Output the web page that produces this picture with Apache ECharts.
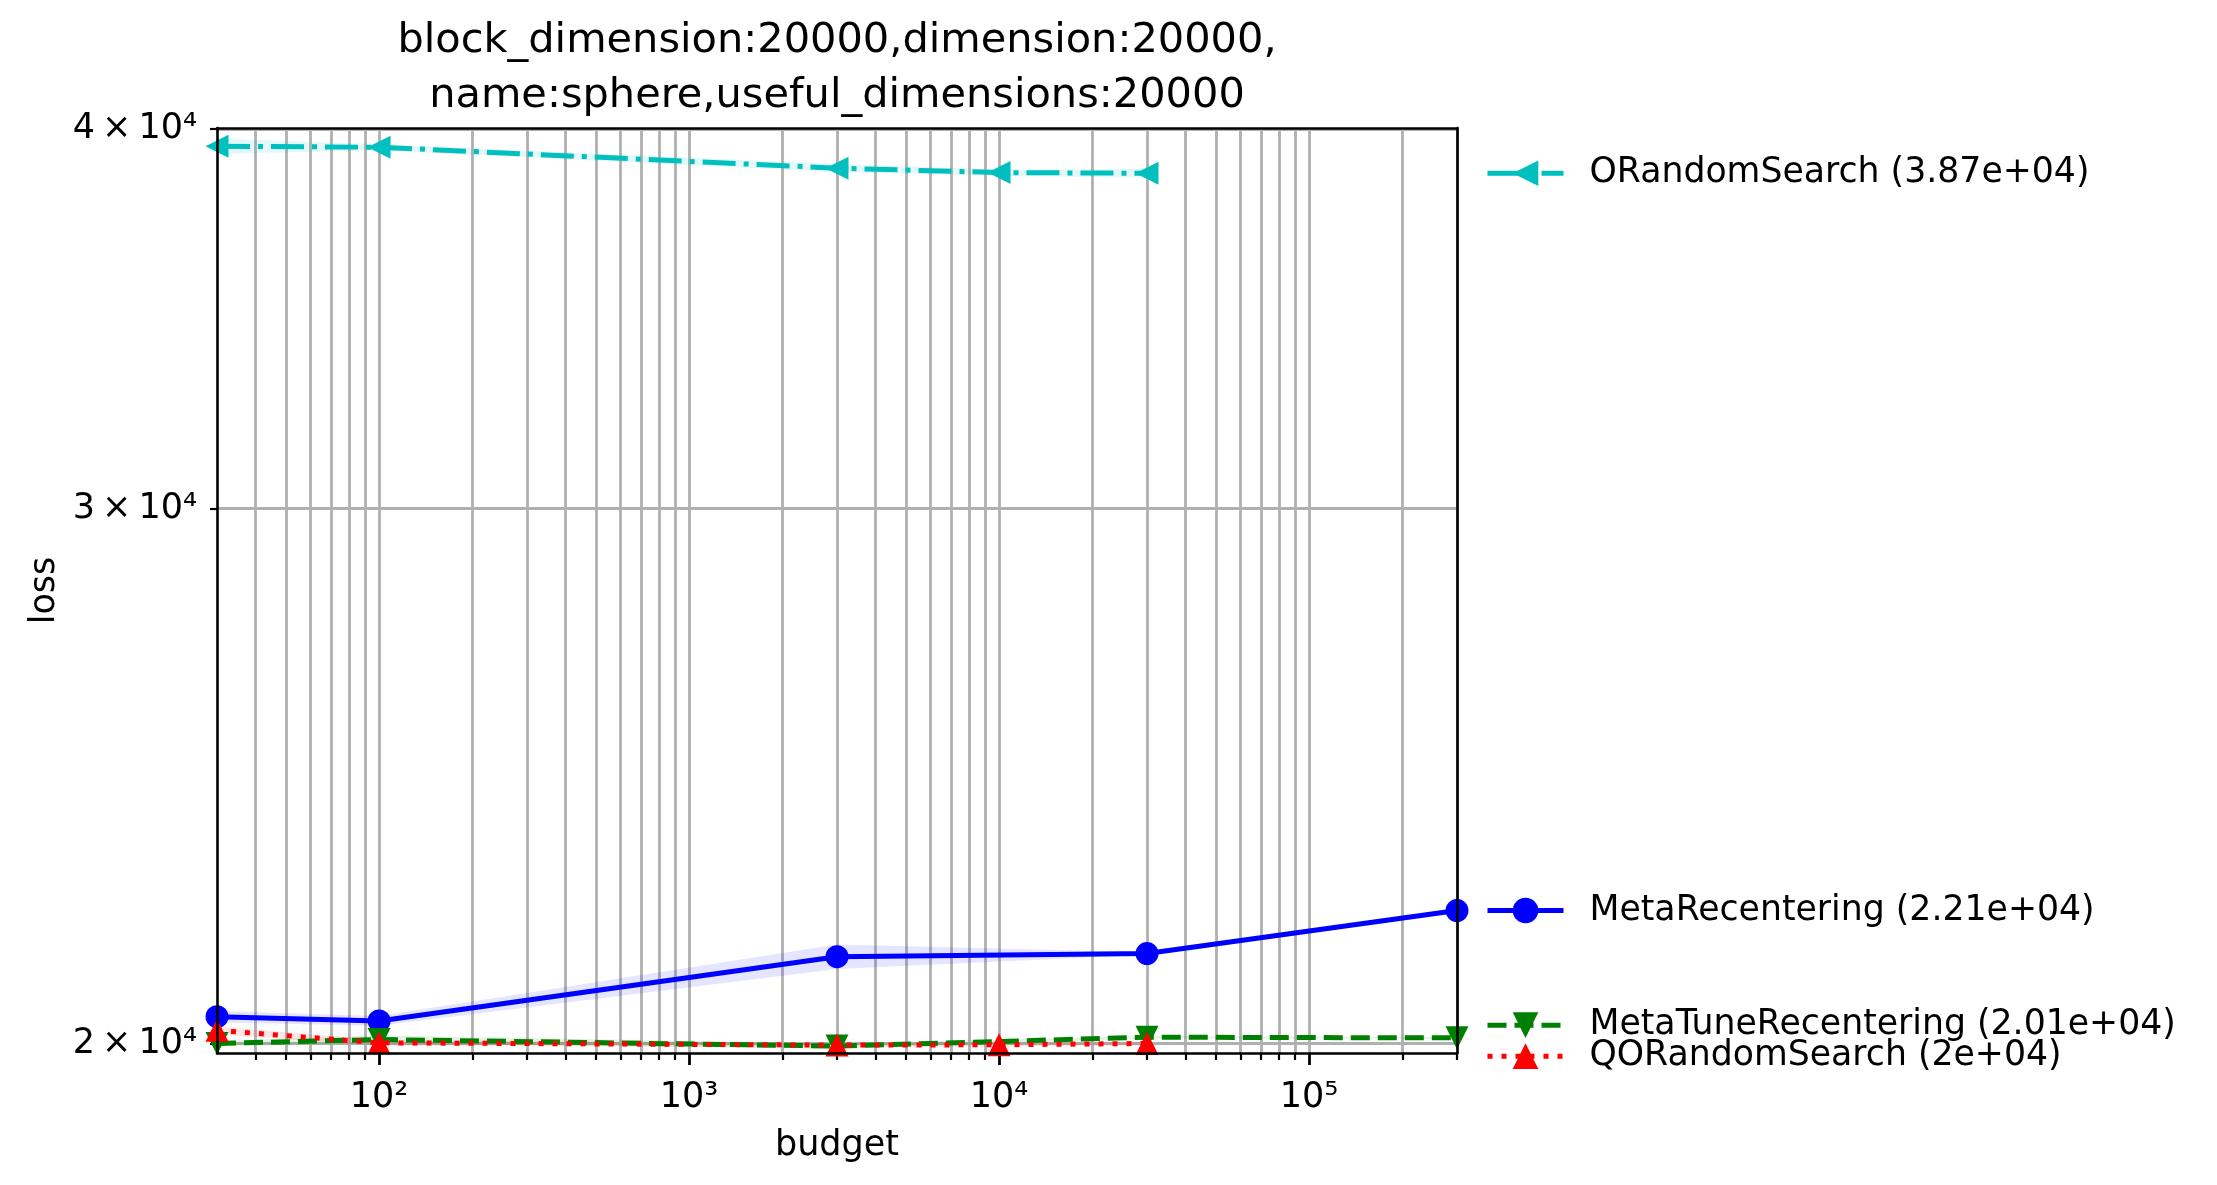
<!DOCTYPE html>
<html>
<head>
<meta charset="utf-8">
<script src="https://cdn.jsdelivr.net/npm/echarts@6/dist/echarts.min.js"></script>
</head>
<body style="margin:0; background:#fff">
<div id="container" style="width:2217px; height:1185px"></div>
<script type="text/javascript">
// values
var seriesNames = ['ORandomSearch (3.87e+04)', 'MetaRecentering (2.21e+04)', 'MetaTuneRecentering (2.01e+04)', 'QORandomSearch (2e+04)'];

var oRandBudget = [30, 100, 3000, 10000, 30000];
var oRandLoss = [39480, 39450, 38830, 38700, 38680];
var oRandErr = [230, 90, 120, 90, 130];

var metaBudget = [30, 100, 3000, 30000, 300000];
var metaLoss = [20410, 20345, 21360, 21410, 22120];
var metaErr = [90, 75, 200, 20, 15];

var tuneBudget = [30, 100, 3000, 30000, 300000];
var tuneLoss = [20000, 20060, 19960, 20095, 20085];
var tuneErr = [40, 60, 40, 20, 15];

var qoBudget = [30, 100, 3000, 10000, 30000];
var qoLoss = [20200, 20010, 19975, 19980, 20000];
var qoErr = [60, 45, 30, 30, 30];

var xMajor = [100, 1000, 10000, 100000];
var xMinor = [40, 50, 60, 70, 80, 90, 200, 300, 400, 500, 600, 700, 800, 900,
  2000, 3000, 4000, 5000, 6000, 7000, 8000, 9000, 20000, 30000, 40000, 50000,
  60000, 70000, 80000, 90000, 200000, 300000];
var yTicks = [20000, 30000, 40000];

var FONT = 'DejaVu Sans';
var SUP = {'0':'\u2070','1':'\u00b9','2':'\u00b2','3':'\u00b3','4':'\u2074','5':'\u2075','6':'\u2076','7':'\u2077','8':'\u2078','9':'\u2079'};
function sup(n) { return String(n).split('').map(function (c) { return SUP[c]; }).join(''); }
function fmtX(v) { return '10' + sup(Math.round(Math.log10(v))); }
function fmtY(v) {
  var e = Math.floor(Math.log10(v) + 1e-9);
  var m = Math.round(v / Math.pow(10, e));
  return m + '\u2009\u00d7\u200910' + sup(e);
}

var dom = document.getElementById('container');
var myChart = echarts.init(dom);

function pairs(xs, ys) { return xs.map(function (x, i) { return [x, ys[i]]; }); }

// shaded spread around a curve, one polygon through the axis scales
function bandSeries(xs, ys, err, fill) {
  var rows = xs.map(function (x, i) { return [x, ys[i] - err[i], ys[i] + err[i]]; });
  return {
    type: 'custom', silent: true, z: 1, clip: true,
    encode: {x: 0, y: [1, 2]},
    data: rows,
    renderItem: function (params, api) {
      if (params.dataIndex !== 0) return null;
      var n = rows.length, lower = [], upper = [];
      for (var j = 0; j < n; j++) {
        lower.push(api.coord([api.value(0, j), api.value(1, j)]));
        upper.unshift(api.coord([api.value(0, j), api.value(2, j)]));
      }
      return {type: 'polygon', shape: {points: lower.concat(upper)}, style: {fill: fill}};
    }
  };
}

function lineSeries(name, xs, ys, color, dash, symbol, size, rot) {
  return {
    name: name, type: 'line', data: pairs(xs, ys),
    symbol: symbol, symbolSize: size, symbolRotate: rot,
    itemStyle: {color: color},
    lineStyle: {color: color, width: 5, type: dash, cap: 'butt'},
    z: 2
  };
}

var series = [
  bandSeries(oRandBudget, oRandLoss, oRandErr, 'rgba(0,191,191,0.1)'),
  bandSeries(metaBudget, metaLoss, metaErr, 'rgba(0,0,255,0.1)'),
  bandSeries(tuneBudget, tuneLoss, tuneErr, 'rgba(0,128,0,0.1)'),
  bandSeries(qoBudget, qoLoss, qoErr, 'rgba(255,0,0,0.1)'),
  lineSeries(seriesNames[0], oRandBudget, oRandLoss, '#00bfbf', [33, 8, 5, 8], 'triangle', 23, 90),
  lineSeries(seriesNames[1], metaBudget, metaLoss, '#0000ff', 'solid', 'circle', 23, 0),
  lineSeries(seriesNames[2], tuneBudget, tuneLoss, '#008000', [19, 8], 'triangle', 23, 180),
  lineSeries(seriesNames[3], qoBudget, qoLoss, '#ff0000', [5, 9], 'triangle', 23, 0)
];

var xMin = 30, xMax = 300000, yMin = 19856, yMax = 40030;
var gridLine = {show: true, lineStyle: {color: '#b0b0b0', width: 2.8}};
var frameLine = {show: true, lineStyle: {color: '#000', width: 2.6}};
var tickText = {fontFamily: FONT, fontSize: 35, color: '#000'};
function frameAxis(pos) {
  return {
    type: 'log', logBase: 10, position: pos, z: 3,
    axisLine: frameLine, axisTick: {show: false}, axisLabel: {show: false}, splitLine: {show: false}
  };
}

option = {
  animation: false,
  backgroundColor: '#fff',
  title: {
    text: 'block_dimension:20000,dimension:20000,\nname:sphere,useful_dimensions:20000',
    left: 837, top: 14, padding: 0, textAlign: 'center',
    textStyle: {fontFamily: FONT, fontSize: 41.5, fontWeight: 'normal', color: '#000', lineHeight: 55}
  },
  grid: {left: 217, right: 760, top: 128, bottom: 132},
  xAxis: [
    {
      type: 'log', logBase: 10, min: xMin, max: xMax, position: 'bottom',
      name: 'budget', nameLocation: 'middle', nameGap: 75,
      nameTextStyle: {fontFamily: FONT, fontSize: 35, color: '#000'},
      axisLine: {show: false},
      axisTick: {show: true, length: 12, customValues: xMajor, lineStyle: {color: '#000', width: 2.8}},
      axisLabel: Object.assign({customValues: xMajor, formatter: fmtX, margin: 27}, tickText),
      splitLine: gridLine
    },
    {
      type: 'log', logBase: 10, min: xMin, max: xMax, position: 'bottom',
      axisLine: {show: false},
      axisTick: {show: true, length: 7, customValues: xMinor, lineStyle: {color: '#000', width: 2.2}},
      axisLabel: {show: false},
      splitLine: gridLine
    },
    Object.assign(frameAxis('bottom'), {min: xMin, max: xMax}),
    Object.assign(frameAxis('top'), {min: xMin, max: xMax})
  ],
  yAxis: [
    {
      type: 'log', logBase: 10, min: yMin, max: yMax, position: 'left',
      name: 'loss', nameLocation: 'middle', nameGap: 155,
      nameTextStyle: {fontFamily: FONT, fontSize: 35, color: '#000'},
      axisLine: {show: false},
      axisTick: {show: true, length: 7, customValues: yTicks, lineStyle: {color: '#000', width: 2.2}},
      axisLabel: Object.assign({customValues: yTicks, formatter: fmtY, margin: 20, padding: [7, 0, 0, 0]}, tickText),
      splitLine: gridLine
    },
    Object.assign(frameAxis('left'), {min: yMin, max: yMax}),
    Object.assign(frameAxis('right'), {min: yMin, max: yMax})
  ],
  series: series
};

myChart.setOption(option, true);

// legend entries sit beside the last value of each curve, pushed apart when they collide
var lastLoss = [oRandLoss, metaLoss, tuneLoss, qoLoss].map(function (a) { return a[a.length - 1]; });
var slots = lastLoss.map(function (v, i) {
  return {i: i, y: myChart.convertToPixel({yAxisIndex: 0}, v)};
});
slots.sort(function (a, b) { return a.y - b.y; });
var gap = 31;
for (var it = 0; it < 60; it++) {
  for (var k = 1; k < slots.length; k++) {
    var d = slots[k].y - slots[k - 1].y;
    if (d < gap) {
      var s = (gap - d) / 2;
      slots[k].y += s;
      slots[k - 1].y -= s;
    }
  }
}
var legends = slots.map(function (sl) {
  return {
    left: 1485, top: sl.y - 17.5, padding: 0, selectedMode: false,
    itemWidth: 76, itemHeight: 32,
    lineStyle: {width: 5},
    data: [seriesNames[sl.i]],
    textStyle: {fontFamily: FONT, fontSize: 34.7, color: '#000', lineHeight: 35, padding: [0, 0, 0, 21]}
  };
});
myChart.setOption({legend: legends});
</script>
</body>
</html>
